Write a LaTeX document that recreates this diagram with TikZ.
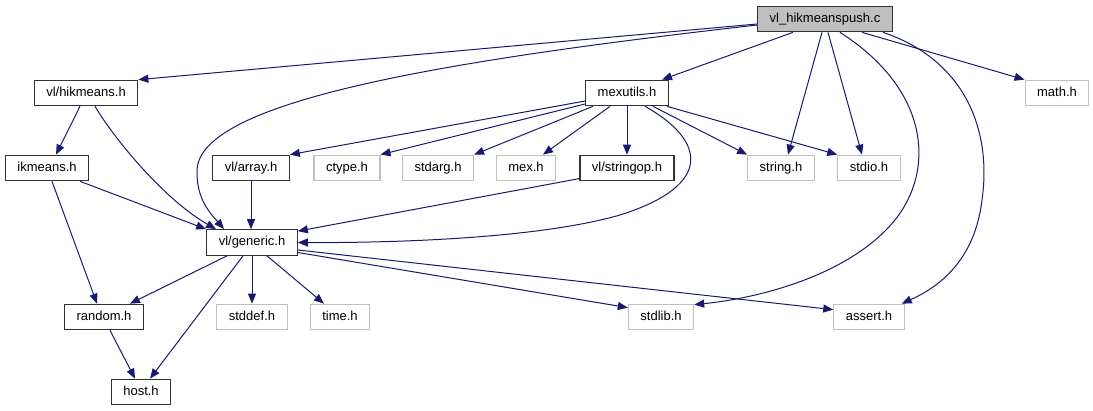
\documentclass[tikz,border=0pt]{standalone}
\usepackage{fontspec}
\setmainfont{Liberation Sans}
\usepackage{tikz}
\usetikzlibrary{arrows.meta}
\definecolor{edgeblue}{RGB}{25, 25, 112}
\definecolor{extgrey}{RGB}{191, 191, 191}

\begin{document}
\begin{tikzpicture}[
  x = 1pt, y = -1pt,
  file/.style = {
    draw           = black!80,
    line width     = 1.2pt,
    fill           = white,
    inner xsep     = 12pt,
    inner ysep     = 0pt,
    minimum height = 25.5pt,
    text height    = 9.5pt,
    text depth     = 3pt,
    font           = \fontsize{13}{15}\selectfont
  },
  sysfile/.style  = {file, draw = extgrey},
  rootfile/.style = {file, fill = extgrey},
  dep/.style = {
    draw       = edgeblue,
    line width = 1pt,
    -{Triangle[length=10pt, width=8pt]}
  }
]
  \path[fill=white] (0,0) rectangle (1093,411);

  \node[rootfile] (root)   at (825,19)    {vl\_hikmeanspush.c};

  \node[file]     (hik)    at (86,93)     {vl/hikmeans.h};
  \node[file]     (mex)    at (627,93)    {mexutils.h};
  \node[sysfile]  (math)   at (1057,93)   {math.h};

  \node[file]     (ikm)    at (47,168)    {ikmeans.h};
  \node[file]     (arr)    at (251,168)   {vl/array.h};
  \node[sysfile]  (ctype)  at (347,168)   {ctype.h};
  \node[sysfile]  (stdarg) at (438,168)   {stdarg.h};
  \node[sysfile]  (mexh)   at (526,168)   {mex.h};
  \node[file]     (strop)  at (627,168)   {vl/stringop.h};
  \node[sysfile]  (string) at (781,168)   {string.h};
  \node[sysfile]  (stdio)  at (869,168)   {stdio.h};

  \node[file]     (gen)    at (252,242.5) {vl/generic.h};

  \node[file]     (rand)   at (104,317)   {random.h};
  \node[sysfile]  (stddef) at (252,317)   {stddef.h};
  \node[sysfile]  (time)   at (340,317)   {time.h};
  \node[sysfile]  (stdlib) at (661,317)   {stdlib.h};
  \node[sysfile]  (assert) at (869,317)   {assert.h};

  \node[file]     (host)   at (141,392)   {host.h};

  \draw[dep] ([yshift=-5pt]root.west) -- (hik.north east);
  \draw[dep] ([yshift=-6pt]root.west) .. controls (450,60) and (200,100) .. (197,170)
    .. controls (196,200) and (212,215) .. ([xshift=-28pt]gen.north);
  \draw[dep] ([xshift=-32pt]root.south) -- ([xshift=35pt]mex.north);
  \draw[dep] ([xshift=-3pt]root.south) -- ([xshift=7pt]string.north);
  \draw[dep] ([xshift=3pt]root.south) -- ([xshift=-7pt]stdio.north);
  \draw[dep] ([xshift=37pt]root.south) -- (math.north west);
  \draw[dep] ([xshift=15pt]root.south) .. controls (930,90) and (935,170) .. (895,220)
    .. controls (850,275) and (760,298) .. ([yshift=-1pt]stdlib.north east);
  \draw[dep] ([xshift=58pt]root.south) .. controls (965,60) and (992,130) .. (982,200)
    .. controls (976,250) and (950,282) .. ([xshift=-3pt]assert.north east);

  \draw[dep] ([xshift=-6pt]hik.south) -- ([xshift=9pt]ikm.north);
  \draw[dep] ([xshift=9pt]hik.south) .. controls (115,140) and (165,200) .. ([xshift=-36pt]gen.north);

  \draw[dep] ([xshift=33pt]ikm.south) -- (gen.north west);
  \draw[dep] ([xshift=5pt]ikm.south) -- ([xshift=-7pt]rand.north);

  \draw[dep] ([yshift=-8pt]mex.west) -- (arr.north east);
  \draw[dep] ([yshift=-11pt]mex.west) -- (ctype.north east);
  \draw[dep] ([xshift=-34pt]mex.south) -- (stdarg.north east);
  \draw[dep] ([xshift=-17pt]mex.south) -- ([xshift=17pt]mexh.north);
  \draw[dep] (mex.south) -- (strop.north);
  \draw[dep] ([xshift=26pt]mex.south) -- (string.north west);
  \draw[dep] ([xshift=40pt]mex.south) -- (stdio.north west);
  \draw[dep] ([xshift=18pt]mex.south) .. controls (705,140) and (715,185) .. (620,215)
    .. controls (540,238) and (400,243) .. (gen.east);

  \draw[dep] (arr.south) -- (arr.south |- gen.north);
  \draw[dep] ([yshift=2.75pt]strop.south west) -- ([yshift=-2pt]gen.north east);

  \draw[dep] ([xshift=-25pt]gen.south) -- ([xshift=26pt]rand.north);
  \draw[dep] ([xshift=-9pt]gen.south) -- ([xshift=9pt]host.north);
  \draw[dep] (gen.south) -- (stddef.north);
  \draw[dep] ([xshift=15pt]gen.south) -- ([xshift=-16pt]time.north);
  \draw[dep] ([yshift=-7.5pt]gen.east) -- ([yshift=-6pt]assert.north west);
  \draw[dep] ([yshift=-10pt]gen.east) -- ([yshift=-4pt]stdlib.north west);

  \draw[dep] ([xshift=6pt]rand.south) -- ([xshift=-6pt]host.north);
\end{tikzpicture}
\end{document}
